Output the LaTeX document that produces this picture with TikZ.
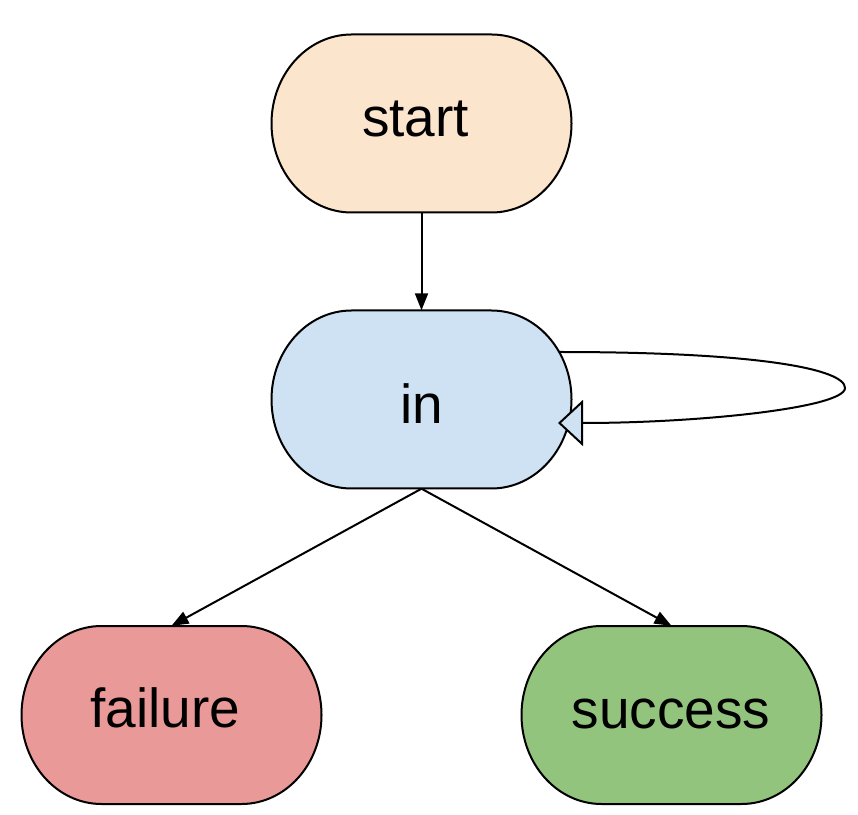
\documentclass[tikz,border=0pt]{standalone}
\usepackage{fontspec}
\setmainfont{Liberation Sans}
\usetikzlibrary{arrows.meta,calc}
\definecolor{startfill}{RGB}{252,229,205}
\definecolor{infill}{RGB}{207,226,243}
\definecolor{failfill}{RGB}{234,153,153}
\definecolor{succfill}{RGB}{147,196,125}
% #1 name, #2 x, #3 y, #4 fill, #5 text, #6 text x, #7 text baseline y
\newcommand\stadnode[7]{%
  \draw[shapeline, fill=#4] (#2-70,#3+89) -- (#2+70,#3+89)
    arc[start angle=90, end angle=-90, x radius=80, y radius=89]
    -- (#2-70,#3-89)
    arc[start angle=270, end angle=90, x radius=80, y radius=89] -- cycle;
  \node[stadholder] (#1) at (#2,#3) {};
  \node[stadtext] (#1-text) at (#6,#7) {#5};}
\begin{document}
\begin{tikzpicture}[x=1pt, y=1pt,
  shapeline/.style={draw=black, line width=2pt},
  stadholder/.style={rectangle, minimum width=300pt, minimum height=178pt, inner sep=0pt},
  stadtext/.style={anchor=base, inner sep=0pt, font=\fontsize{55}{60}\selectfont},
  conn/.style={draw=black, line width=2pt, -{Triangle[length=17pt, width=13pt]}},
  loopconn/.style={draw=black, line width=2pt,
    -{Triangle[open, length=25pt, width=46pt, fill=infill, line width=2pt]}}]
\useasboundingbox (0,0) rectangle (858,814);
\stadnode{start}{421.5}{690.5}{startfill}{start}{415.5}{677}
\stadnode{in}{421.5}{414.5}{infill}{in}{422}{390}
\stadnode{failure}{171.5}{99}{failfill}{failure}{165.5}{87}
\stadnode{success}{671.5}{99}{succfill}{success}{671}{86}
\draw[conn] (start.south) -- (in.north);
\draw[conn] (in.south) -- (failure.north);
\draw[conn] (in.south) -- (success.north);
\coordinate (loopfar) at ($(in.center)+(423.5,11.5)$);
\draw[loopconn] ($(in.center)+(137.5,47.5)$)
  .. controls ($(in.center)+(340,47.5)$) and ($(in.center)+(423.5,30)$) .. (loopfar)
  .. controls ($(in.center)+(423.5,-8)$) and ($(in.center)+(280,-23.5)$) .. ($(in.center)+(136.5,-23.5)$);
\end{tikzpicture}
\end{document}
